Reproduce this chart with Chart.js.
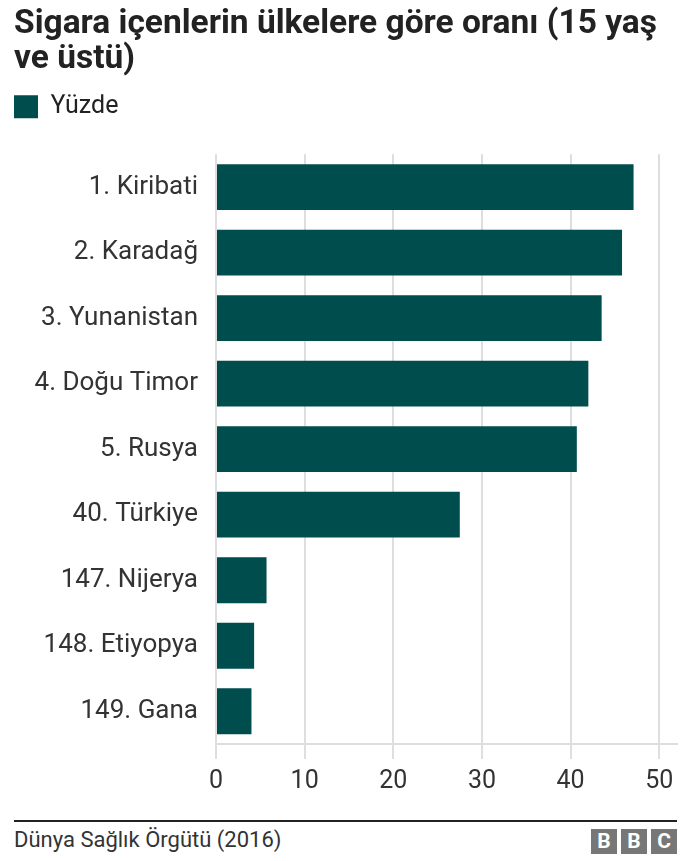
<!DOCTYPE html>
<html>
<head>
<meta charset="utf-8">
<script src="https://cdn.jsdelivr.net/npm/chart.js@4.4.0/dist/chart.umd.min.js"></script>
<style>
  html, body { margin: 0; padding: 0; background: #fff; }
  body { width: 690px; height: 861px; position: relative; overflow: hidden; font-family: Roboto, "Noto Sans", sans-serif; }
  #wrap { position: absolute; left: 0; top: 0; width: 690px; height: 810px; }
  #footer { position: absolute; left: 14px; width: 663px; top: 820px; border-top: 2px solid #222; }
  #source { position: absolute; left: 0; top: 5px; font-size: 22px; color: #333; }
  #bbc { position: absolute; right: 0; top: 7px; display: flex; gap: 4px; }
  #bbc span { width: 26px; height: 25px; background: #777; color: #fff; font: bold 21px Roboto, sans-serif; line-height: 25px; text-align: center; }
</style>
</head>
<body>
<div id="wrap"><canvas id="chart"></canvas></div>
<div id="footer">
  <div id="source">Dünya Sağlık Örgütü (2016)</div>
  <div id="bbc"><span>B</span><span>B</span><span>C</span></div>
</div>
<script>
  const titleLines = ["Sigara içenlerin ülkelere göre oranı (15 yaş", "ve üstü)"];
  const seriesName = "Yüzde";
  const countries = [
    "1. Kiribati",
    "2. Karadağ",
    "3. Yunanistan",
    "4. Doğu Timor",
    "5. Rusya",
    "40. Türkiye",
    "147. Nijerya",
    "148. Etiyopya",
    "149. Gana",
  ];
  const percent = [47.1, 45.8, 43.5, 42.0, 40.7, 27.5, 5.7, 4.3, 4.0];
  const xTicks = [0, 10, 20, 30, 40, 50];

  const barColor = "#004d4d";
  const textColor = "#333333";
  const gridColor = "#dedede";

  // give the legend some room below it
  const legendGap = {
    id: "legendGap",
    beforeInit(chart) {
      const fit = chart.legend.fit;
      chart.legend.fit = function () {
        fit.bind(chart.legend)();
        this.height += 25;
      };
    },
  };

  const ctx = document.getElementById("chart").getContext("2d");
  new Chart(ctx, {
    type: "bar",
    data: {
      labels: countries,
      datasets: [
        {
          label: seriesName,
          data: percent,
          backgroundColor: barColor,
          borderWidth: 0,
          barPercentage: 0.7,
          categoryPercentage: 1.0,
        },
      ],
    },
    plugins: [legendGap],
    options: {
      indexAxis: "y",
      responsive: true,
      maintainAspectRatio: false,
      animation: false,
      layout: { padding: { left: 14, right: 13, top: 4, bottom: 5 } },
      scales: {
        x: {
          min: 0,
          max: 52,
          afterBuildTicks: (axis) => {
            axis.ticks = xTicks.map((v) => ({ value: v }));
          },
          grid: { color: gridColor, lineWidth: 2, tickLength: 15 },
          border: { color: gridColor, width: 2 },
          ticks: {
            color: textColor,
            font: { family: "Roboto", size: 25 },
            padding: 8,
          },
        },
        y: {
          afterFit: (axis) => {
            axis.width = 202;
          },
          grid: { display: false },
          border: { display: false },
          ticks: {
            color: textColor,
            font: { family: "Roboto", size: 26 },
            padding: 10,
          },
        },
      },
      plugins: {
        title: {
          display: true,
          text: titleLines,
          align: "start",
          color: "#222222",
          font: { family: "Roboto", size: 33.5, weight: "bold", lineHeight: 1.05 },
          padding: { top: 3, bottom: 17 },
        },
        legend: {
          display: true,
          position: "top",
          align: "start",
          labels: {
            color: "#222222",
            boxWidth: 24,
            boxHeight: 23,
            font: { family: "Roboto", size: 25 },
            padding: 0,
          },
        },
        tooltip: { enabled: false },
      },
    },
  });
</script>
</body>
</html>
